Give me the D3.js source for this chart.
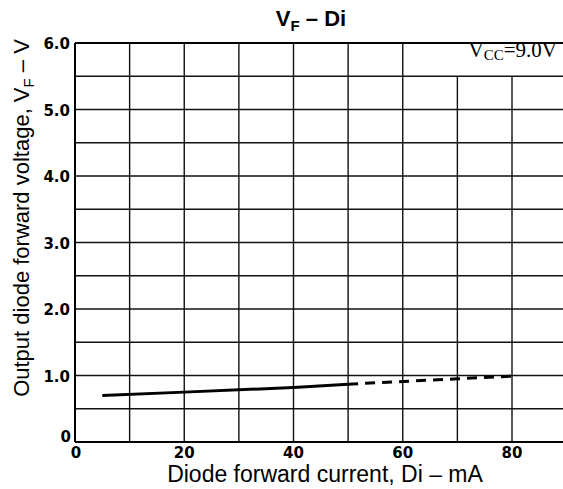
<!DOCTYPE html>
<html>
<head>
<meta charset="utf-8">
<script src="https://d3js.org/d3.v7.min.js"></script>
<style>
  body { margin: 0; background: #fff; }
  svg { display: block; }
</style>
</head>
<body>
<script>
// measured curve, solid part and extrapolated (dashed) part
const solidI = [5, 20, 40, 50];
const solidV = [0.70, 0.75, 0.82, 0.87];
const dashI = [50, 60, 70, 80];
const dashV = [0.87, 0.91, 0.95, 0.99];

const xTicks = [0, 20, 40, 60, 80];
const xGrid = [10, 20, 30, 40, 50, 60, 70, 80];
const yTicks = [0, 1, 2, 3, 4, 5, 6];
const yGrid = [0.5, 1, 1.5, 2, 2.5, 3, 3.5, 4, 4.5, 5, 5.5];

let width = 563, height = 489;

let svg = d3.select("body").append("svg")
    .attr("width", width)
    .attr("height", height);

let x = d3.scaleLinear().domain([0, 80]).range([75, 512]);
let y = d3.scaleLinear().domain([0, 6]).range([442, 43]);
let xEnd = width;

// grid (the top-right cell holding the Vcc note is left open)
svg.append("g").selectAll("line").data(xGrid).join("line")
    .attr("x1", d => x(d)).attr("x2", d => x(d))
    .attr("y1", y(0)).attr("y2", d => d > 60 ? y(5.5) : y(6))
    .attr("stroke", "#111").attr("stroke-width", 1.4);

svg.append("g").selectAll("line").data(yGrid).join("line")
    .attr("x1", x(0)).attr("x2", xEnd)
    .attr("y1", d => y(d)).attr("y2", d => y(d))
    .attr("stroke", "#111").attr("stroke-width", 1.4);

// frame: left, bottom, top
svg.append("line").attr("x1", x(0)).attr("x2", x(0)).attr("y1", y(0)).attr("y2", y(6))
    .attr("stroke", "#000").attr("stroke-width", 2);
svg.append("line").attr("x1", x(0)).attr("x2", xEnd).attr("y1", y(0)).attr("y2", y(0))
    .attr("stroke", "#000").attr("stroke-width", 2);
svg.append("line").attr("x1", x(0)).attr("x2", xEnd).attr("y1", y(6)).attr("y2", y(6))
    .attr("stroke", "#000").attr("stroke-width", 2);

// tick labels
svg.append("g").selectAll("text").data(xTicks).join("text")
    .attr("x", d => x(d) + (d === 0 ? 1 : 0))
    .attr("y", 458)
    .attr("text-anchor", "middle")
    .attr("font-family", "DejaVu Sans")
    .attr("font-weight", "bold")
    .attr("font-size", "15px")
    .text(d => d);

svg.append("g").selectAll("text").data(yTicks).join("text")
    .attr("x", d => d === 0 ? 71 : 70)
    .attr("y", d => y(d) + (d === 0 ? 0 : 6))
    .attr("text-anchor", "end")
    .attr("font-family", "DejaVu Sans")
    .attr("font-weight", "bold")
    .attr("font-size", "15px")
    .text(d => d === 0 ? "0" : d3.format(".1f")(d));

// curve
let line = d3.line().x(d => x(d[0])).y(d => y(d[1]));
svg.append("path")
    .datum(d3.zip(solidI, solidV))
    .attr("d", line)
    .attr("fill", "none").attr("stroke", "#000").attr("stroke-width", 3);
svg.append("path")
    .datum(d3.zip(dashI, dashV))
    .attr("d", line)
    .attr("fill", "none").attr("stroke", "#000").attr("stroke-width", 3)
    .attr("stroke-dasharray", "10,7");

// title
let title = svg.append("text")
    .attr("x", 311).attr("y", 26)
    .attr("text-anchor", "middle")
    .attr("font-family", "Liberation Sans, Arial")
    .attr("font-weight", "bold")
    .attr("font-size", "22px");
title.append("tspan").text("V");
title.append("tspan").attr("dy", 5).attr("font-size", "15px").text("F");
title.append("tspan").attr("dy", -5).text(" \u2013 Di");

// Vcc note
let note = svg.append("text")
    .attr("x", 557).attr("y", 57)
    .attr("text-anchor", "end")
    .attr("font-family", "Liberation Serif, Times New Roman")
    .attr("font-size", "21px");
note.append("tspan").text("V");
note.append("tspan").attr("dy", 3).attr("font-size", "15px").text("CC");
note.append("tspan").attr("dy", -3).text("=9.0V");

// axis titles
svg.append("text")
    .attr("x", 325).attr("y", 482)
    .attr("text-anchor", "middle")
    .attr("font-family", "Liberation Sans, Arial")
    .attr("font-size", "23px")
    .text("Diode forward current, Di \u2013 mA");

let yl = svg.append("text")
    .attr("transform", "translate(29,218) rotate(-90)")
    .attr("text-anchor", "middle")
    .attr("font-family", "Liberation Sans, Arial")
    .attr("font-size", "22px");
yl.append("tspan").text("Output diode forward voltage, V");
yl.append("tspan").attr("dy", 5).attr("font-size", "15px").text("F");
yl.append("tspan").attr("dy", -5).text(" \u2013 V");
</script>
</body>
</html>
